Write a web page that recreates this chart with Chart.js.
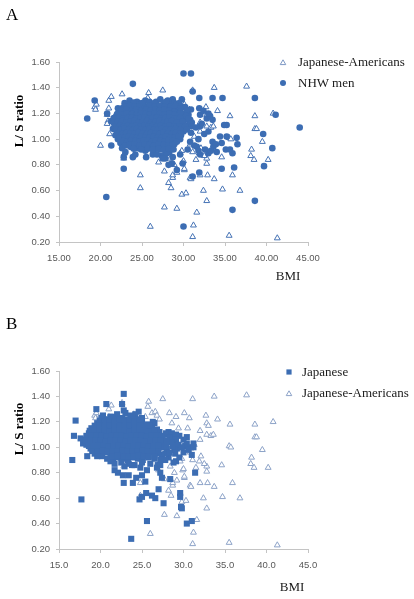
<!DOCTYPE html>
<html lang="en">
<head>
<meta charset="UTF-8">
<title>BMI vs L/S ratio</title>
<style>
  body { margin: 0; background: #fff; width: 414px; height: 599px; position: relative; overflow: hidden; font-family: 'Liberation Serif', 'Times New Roman', serif; }
  .panel { position: absolute; left: 0; width: 414px; height: 300px; }
  .txt { position: absolute; font-size: 13px; line-height: 1; color: #1a1a1a; white-space: nowrap; }
  .letter { font-size: 17px; color: #000; }
  .centered { transform: translate(-50%, -50%); }
  .ytitle { font-weight: bold; transform: translate(-50%, -50%) rotate(-90deg); color: #000; }
</style>
</head>
<body>

<div class="panel" style="top:0"><canvas id="chartA"></canvas></div>
<div class="panel" style="top:300px"><canvas id="chartB"></canvas></div>

<div class="txt letter" style="left:6px;top:6px">A</div>
<div class="txt ytitle" style="left:18px;top:121px">L/ S ratio</div>
<div class="txt centered" style="left:288px;top:275px">BMI</div>
<div class="txt" style="left:298px;top:55px">Japanese-Americans</div>
<div class="txt" style="left:298px;top:76px">NHW men</div>

<div class="txt letter" style="left:6px;top:315px">B</div>
<div class="txt ytitle" style="left:18px;top:429px">L/ S ratio</div>
<div class="txt centered" style="left:292px;top:586px">BMI</div>
<div class="txt" style="left:302px;top:365px">Japanese</div>
<div class="txt" style="left:302px;top:386px">Japanese-Americans</div>

<script src="https://cdn.jsdelivr.net/npm/chart.js@4.4.1/dist/chart.umd.min.js"></script>
<script>
// axis ranges
const bmiRange = [15, 45];
const bmiStep = 5;
const ratioRange = [0.2, 1.6];
const ratioStep = 0.2;

// [BMI, L/S ratio] - Japanese-Americans (same points in both panels)
const jaPairs = [
  [19.3,1.25],[19.4,1.23],[19.5,1.27],[20.0,0.95],[20.8,1.19],[20.9,1.14],[20.8,1.12],[21.0,1.30],
  [21.0,1.24],[21.1,1.04],[21.3,1.33],[22.6,1.35],[22.9,0.89],[22.8,0.85],[24.0,1.26],[24.8,0.72],
  [24.8,0.62],[25.4,1.24],[25.7,1.32],[25.8,1.36],[26.0,0.32],[26.2,1.27],[26.6,1.28],[26.8,1.25],
  [27.1,1.22],[27.5,1.38],[27.0,0.82],[27.7,0.75],[27.7,0.47],[28.2,0.66],[28.5,0.62],[28.7,0.70],
  [28.3,1.27],[28.6,1.19],[29.1,1.24],[29.4,1.15],[29.2,0.46],[29.8,0.57],[30.3,0.58],[30.1,0.76],
  [29.9,0.82],[30.1,1.27],[30.5,1.15],[30.7,1.23],[31.1,1.38],[31.2,0.33],[31.1,0.24],[31.6,0.43],
  [30.8,0.70],[31.5,0.84],[31.9,0.89],[32.0,0.72],[32.4,0.60],[32.8,0.52],[32.9,0.72],[32.8,0.81],
  [32.8,0.85],[32.0,1.13],[32.0,1.06],[32.7,1.25],[32.8,1.19],[33.0,1.17],[32.8,1.10],[33.3,1.09],
  [33.6,1.10],[32.1,0.93],[32.5,0.87],[33.7,1.40],[34.1,1.22],[33.7,0.69],[34.7,0.61],[34.6,0.86],
  [35.5,0.25],[35.6,1.18],[35.5,1.01],[35.7,1.00],[35.9,0.72],[36.8,0.60],[37.6,1.41],[38.6,1.18],
  [38.6,1.08],[38.8,1.08],[38.2,0.92],[38.1,0.87],[38.5,0.84],[39.5,0.98],[40.2,0.84],[40.8,1.20],
  [41.3,0.23],[28.3,0.95],[28.4,0.85],[28.9,0.80],[28.7,0.72],[29.2,0.74],[30.0,0.83],[30.1,0.77],
  [30.8,0.96],[31.1,0.90],[30.9,0.69],[31.3,1.02],[29.8,0.91],[29.6,0.89]
];

// [BMI, L/S ratio] - NHW men (panel A)
const nhwPairs = [
  [18.4,1.16],[19.3,1.30],[20.7,0.55],[20.8,1.20],[21.3,0.95],[22.1,1.24],[22.8,0.77],[22.8,0.86],
  [23.9,0.86],[23.9,1.43],[30.0,1.51],[30.9,1.51],[31.1,1.37],[31.9,1.32],[33.5,1.32],[34.7,1.32],
  [30.0,0.32],[35.9,0.45],[38.6,0.52],[44.0,1.09],[41.1,1.19],[39.6,1.04],[40.7,0.93],[39.7,0.79],
  [38.6,1.32],[36.4,1.01],[36.5,0.96],[36.1,0.78],[35.9,0.89],[35.2,1.11],[34.9,1.11],[34.6,0.77],
  [34.6,0.97],[35.1,0.92],[33.5,0.98],[33.0,0.89],[33.6,0.94],[31.9,0.74],[31.1,0.71],[29.9,0.81],
  [29.2,0.76],[28.6,0.81],[31.9,1.24],[32.0,1.19],[32.8,1.16],[33.2,1.18],[33.0,1.06],[32.0,1.10],
  [29.8,1.31],[29.8,1.25],[30.9,1.23],[30.8,1.15],[28.7,1.31],[27.9,1.27],[26.7,1.29],[31.6,0.94],
  [32.0,0.88],[30.8,0.98],
  [23.5,1.30],[25.4,1.30],[27.2,1.31],[28.1,1.30],[24.4,1.29],
  [23.2,1.27],[24.6,1.27],[25.3,1.26],[26.1,1.27],[26.9,1.26],[27.6,1.28],[28.4,1.27],[29.2,1.26],
  [22.6,1.24],[23.2,1.23],[23.8,1.25],[24.4,1.24],[25.0,1.23],[25.6,1.25],[26.2,1.24],[26.8,1.23],
  [27.4,1.25],[28.1,1.24],[28.8,1.23],[30.2,1.25],
  [22.2,1.21],[22.8,1.20],[23.5,1.22],[24.1,1.21],[24.6,1.20],[25.2,1.22],[25.7,1.21],[26.3,1.20],
  [26.8,1.22],[27.3,1.21],[27.9,1.20],[28.6,1.21],[29.3,1.22],[30.6,1.19],
  [21.9,1.18],[22.5,1.17],[23.0,1.19],[23.5,1.18],[24.0,1.17],[24.5,1.19],[25.0,1.18],[25.5,1.17],
  [26.0,1.18],[26.5,1.19],[27.0,1.17],[27.5,1.18],[28.0,1.19],[28.6,1.17],[29.2,1.18],[29.9,1.17],
  [21.3,1.14],[21.8,1.15],[22.3,1.16],[22.8,1.14],[23.3,1.15],[23.8,1.16],[24.3,1.14],[24.8,1.15],
  [25.3,1.16],[25.8,1.14],[26.3,1.15],[26.8,1.16],[27.3,1.14],[27.8,1.15],[28.3,1.16],[28.8,1.14],
  [29.4,1.15],[30.2,1.15],[31.0,1.13],
  [21.9,1.12],[22.4,1.11],[22.9,1.13],[23.4,1.12],[23.9,1.11],[24.4,1.13],[24.9,1.12],[25.4,1.11],
  [25.9,1.13],[26.4,1.12],[26.9,1.11],[27.4,1.13],[27.9,1.12],[28.4,1.11],[28.9,1.13],[29.5,1.12],
  [30.6,1.11],[32.2,1.12],[33.5,1.15],[33.0,1.20],[32.4,1.22],
  [21.5,1.08],[22.1,1.09],[22.6,1.10],[23.1,1.08],[23.6,1.09],[24.1,1.10],[24.6,1.08],[25.1,1.09],
  [25.6,1.10],[26.1,1.08],[26.6,1.09],[27.1,1.10],[27.6,1.08],[28.1,1.09],[28.6,1.10],[29.2,1.08],
  [29.8,1.09],[31.5,1.09],
  [22.3,1.06],[22.8,1.05],[23.3,1.07],[23.8,1.06],[24.3,1.05],[24.8,1.07],[25.3,1.06],[25.8,1.05],
  [26.3,1.07],[26.8,1.06],[27.3,1.05],[27.8,1.07],[28.3,1.06],[28.8,1.05],[29.3,1.07],[30.0,1.06],
  [30.9,1.05],[32.5,1.04],
  [21.8,1.03],[22.6,1.02],[23.1,1.04],[23.6,1.03],[24.1,1.02],[24.6,1.04],[25.1,1.03],[25.6,1.02],
  [26.1,1.04],[26.6,1.03],[27.1,1.02],[27.6,1.04],[28.1,1.03],[28.6,1.02],[29.1,1.04],[29.7,1.03],
  [34.4,1.02],
  [22.1,1.00],[22.9,0.99],[23.4,1.01],[23.9,1.00],[24.4,0.99],[24.9,1.01],[25.4,1.00],[25.9,0.99],
  [26.4,1.01],[26.9,1.00],[27.4,0.99],[27.9,1.01],[28.4,1.00],[28.9,0.99],[29.6,1.00],[31.8,1.00],
  [35.2,1.02],
  [22.4,0.97],[23.2,0.97],[23.8,0.96],[24.4,0.98],[25.0,0.97],[25.6,0.96],[26.2,0.98],[26.7,0.97],
  [27.3,0.96],[27.8,0.98],[28.3,0.97],[28.9,0.96],[33.9,0.96],
  [22.6,0.93],[23.6,0.94],[24.5,0.93],[25.3,0.95],[26.0,0.94],[26.7,0.93],[27.3,0.95],[27.9,0.94],
  [28.5,0.93],[31.3,0.95],
  [23.0,0.90],[25.4,0.91],[26.4,0.90],[27.2,0.92],[27.8,0.91],[28.3,0.90],[30.5,0.92],[31.8,0.91],
  [32.6,0.92],[33.3,0.91],[34.0,0.90],[35.6,0.92],
  [24.2,0.88],[26.3,0.88],[27.4,0.87],[28.0,0.89],[29.6,0.88],[28.7,0.86],[25.5,0.86],[26.8,0.88],
  [27.8,0.85],[27.5,0.85],[28.2,0.80],
  [22.9,1.28],[24.0,1.285],[25.0,1.28],[25.9,1.29],[26.5,1.28],[27.9,1.29],[28.9,1.28],[29.5,1.28],
  [22.9,1.255],[23.5,1.26],[24.1,1.25],[24.7,1.255],[25.3,1.24],[25.9,1.26],[26.5,1.25],[27.1,1.26],
  [27.7,1.25],[28.4,1.25],[29.0,1.26],[29.6,1.24],[30.4,1.22],
  [22.5,1.225],[23.1,1.23],[23.7,1.22],[24.3,1.23],[24.9,1.22],[25.5,1.23],[26.0,1.22],[26.6,1.23],
  [27.1,1.22],[27.7,1.23],[28.3,1.22],[28.9,1.21],[29.6,1.21],[30.0,1.20],
  [22.0,1.195],[22.6,1.19],[23.2,1.20],[23.8,1.195],[24.3,1.19],[24.9,1.20],[25.4,1.195],[25.9,1.19],
  [26.5,1.20],[27.1,1.195],[27.7,1.19],[28.3,1.20],[28.9,1.19],[29.6,1.20],[30.3,1.18],
  [21.6,1.165],[22.2,1.17],[22.7,1.16],[23.3,1.165],[23.8,1.17],[24.3,1.16],[24.8,1.165],[25.3,1.17],
  [25.8,1.16],[26.3,1.165],[26.8,1.17],[27.3,1.16],[27.8,1.165],[28.3,1.17],[28.9,1.16],[29.6,1.165],
  [30.6,1.16],
  [21.6,1.13],[22.1,1.135],[22.6,1.14],[23.1,1.13],[23.6,1.135],[24.1,1.14],[24.6,1.13],[25.1,1.135],
  [25.6,1.14],[26.1,1.13],[26.6,1.135],[27.1,1.14],[27.6,1.13],[28.1,1.135],[28.6,1.14],[29.2,1.13],
  [29.9,1.135],[30.8,1.12],
  [21.7,1.10],[22.3,1.105],[22.8,1.10],[23.3,1.105],[23.8,1.10],[24.3,1.105],[24.8,1.10],[25.3,1.105],
  [25.8,1.10],[26.3,1.105],[26.8,1.10],[27.3,1.105],[27.8,1.10],[28.3,1.105],[28.9,1.10],[29.5,1.10],
  [30.2,1.10],[31.0,1.10],
  [21.9,1.075],[22.4,1.07],[22.9,1.08],[23.4,1.075],[23.9,1.07],[24.4,1.08],[24.9,1.075],[25.4,1.07],
  [25.9,1.08],[26.4,1.075],[26.9,1.07],[27.4,1.08],[27.9,1.075],[28.4,1.07],[29.0,1.08],[29.6,1.07],
  [30.4,1.075],
  [22.0,1.045],[22.6,1.04],[23.1,1.05],[23.6,1.045],[24.1,1.04],[24.6,1.05],[25.1,1.045],[25.6,1.04],
  [26.1,1.05],[26.6,1.045],[27.1,1.04],[27.6,1.05],[28.1,1.045],[28.6,1.04],[29.1,1.05],[29.6,1.045],
  [22.3,1.015],[22.9,1.01],[23.4,1.02],[23.9,1.015],[24.4,1.01],[24.9,1.02],[25.4,1.015],[25.9,1.01],
  [26.4,1.02],[26.9,1.015],[27.4,1.01],[27.9,1.02],[28.4,1.015],[28.9,1.01],[29.4,1.02],
  [22.7,0.985],[23.2,0.98],[23.7,0.99],[24.2,0.985],[24.7,0.98],[25.2,0.99],[25.7,0.985],[26.2,0.98],
  [26.7,0.99],[27.2,0.985],[27.7,0.98],[28.2,0.99],[28.7,0.985],[29.2,0.98],
  [23.0,0.95],[23.5,0.955],[24.1,0.96],[24.7,0.95],[25.3,0.96],[25.9,0.955],[26.4,0.95],[27.0,0.96],
  [27.6,0.955],[28.2,0.95],[28.7,0.955],
  [24.0,0.925],[24.9,0.92],[25.7,0.925],[26.3,0.92],[27.0,0.925],[27.6,0.92],[28.2,0.925],[28.8,0.92]
];

// [BMI, L/S ratio] - Japanese (panel B)
const jpPairs = [
  [16.6,0.90],[16.8,1.09],[17.0,1.21],[17.7,0.59],[18.4,0.93],[19.5,1.30],[20.7,1.34],[20.3,1.25],
  [22.8,1.42],[22.6,1.34],[22.8,1.29],[24.6,1.28],[21.7,0.82],[22.1,0.80],[22.8,0.72],[23.4,0.78],
  [23.9,0.72],[24.3,0.76],[25.0,0.78],[25.4,0.73],[24.7,0.59],[25.0,0.61],[25.5,0.64],[26.2,0.62],
  [26.6,0.60],[27.0,0.67],[27.6,0.56],[28.4,0.75],[25.6,0.42],[23.7,0.28],[30.4,0.40],[31.0,0.42],
  [29.6,0.64],[29.6,0.61],[29.7,0.53],[29.8,0.52],[31.4,0.80],[31.2,1.03],[31.0,0.94],[30.4,1.08],
  [30.0,1.06],[28.0,1.10],[28.2,1.12],[29.0,0.95],[29.1,0.89],[27.2,0.80],[27.4,0.76],[26.5,1.19],
  [26.2,1.17],[28.6,1.07],[22.7,0.78],[17.6,1.07],[17.9,1.03],
  [29.5,1.09],[30.4,1.03],[30.9,1.00],[29.2,0.99],[28.2,0.92],[28.9,1.03],[27.8,0.95],[30.0,0.96],
  [22.0,1.26],[23.0,1.27],[23.6,1.25],[24.2,1.26],[21.2,1.24],
  [20.1,1.23],[20.8,1.22],[21.4,1.24],[22.0,1.22],[22.6,1.23],[23.2,1.22],[23.8,1.24],[24.4,1.22],
  [25.0,1.23],
  [19.6,1.19],[20.2,1.18],[20.8,1.20],[21.4,1.19],[22.0,1.18],[22.6,1.20],[23.2,1.19],[23.8,1.18],
  [24.4,1.20],[25.0,1.19],[25.6,1.18],[26.3,1.20],
  [18.9,1.15],[19.5,1.14],[20.1,1.16],[20.7,1.15],[21.3,1.14],[21.9,1.16],[22.5,1.15],[23.1,1.14],
  [23.7,1.16],[24.3,1.15],[24.9,1.14],[25.5,1.16],[26.1,1.15],[26.8,1.14],
  [18.6,1.11],[19.2,1.10],[19.8,1.12],[20.4,1.11],[21.0,1.10],[21.6,1.12],[22.2,1.11],[22.8,1.10],
  [23.4,1.12],[24.0,1.11],[24.6,1.10],[25.2,1.12],[25.8,1.11],[26.4,1.10],[27.1,1.12],[27.9,1.11],
  [28.6,1.11],[29.1,1.10],
  [18.0,1.06],[18.4,1.07],[19.0,1.08],[19.6,1.06],[20.2,1.07],[20.8,1.08],[21.4,1.06],[22.0,1.07],
  [22.6,1.08],[23.2,1.06],[23.8,1.07],[24.4,1.08],[25.0,1.06],[25.6,1.07],[26.2,1.08],[26.8,1.06],
  [27.5,1.07],[28.3,1.08],[29.1,1.06],
  [18.3,1.02],[18.5,1.03],[19.1,1.04],[19.7,1.02],[20.3,1.03],[20.9,1.04],[21.5,1.02],[22.1,1.03],
  [22.7,1.04],[23.3,1.02],[23.9,1.03],[24.5,1.04],[25.1,1.02],[25.7,1.03],[26.3,1.04],[26.9,1.02],
  [27.6,1.03],[28.5,1.04],[29.4,1.02],[30.2,1.01],
  [18.8,0.99],[19.4,0.98],[20.0,1.00],[20.6,0.99],[21.2,0.98],[21.8,1.00],[22.4,0.99],[23.0,0.98],
  [23.6,1.00],[24.2,0.99],[24.8,0.98],[25.4,1.00],[26.0,0.99],[26.6,0.98],[27.3,1.00],[28.0,0.99],
  [28.9,0.98],[29.8,1.00],[30.6,0.98],[31.2,1.00],
  [19.3,0.95],[19.9,0.94],[20.6,0.96],[21.2,0.95],[21.8,0.94],[22.4,0.96],[23.0,0.95],[23.6,0.94],
  [24.2,0.96],[24.8,0.95],[25.4,0.94],[26.0,0.96],[26.7,0.95],[27.4,0.94],[28.3,0.96],[29.5,0.92],
  [20.2,0.93],[20.8,0.91],[21.5,0.90],[22.1,0.92],[22.7,0.91],[23.3,0.90],[23.9,0.92],[24.5,0.91],
  [25.1,0.90],[25.8,0.92],[26.5,0.91],[27.2,0.90],[27.8,0.90],[28.8,0.88],
  [21.7,0.87],[22.5,0.88],[23.4,0.87],[24.1,0.86],[25.0,0.88],[26.0,0.87],[26.9,0.86],[21.2,0.89],
  [22.9,0.85],[23.8,0.86],[24.8,0.84],[25.6,0.82],[26.8,0.84],[27.2,0.86],
  [19.9,1.21],[20.5,1.205],[21.1,1.21],[21.7,1.20],[22.3,1.21],[22.9,1.205],[23.5,1.21],[24.1,1.20],
  [24.7,1.21],
  [19.3,1.17],[19.9,1.17],[20.5,1.165],[21.1,1.17],[21.7,1.175],[22.3,1.17],[22.9,1.165],[23.5,1.17],
  [24.1,1.175],[24.7,1.17],[25.3,1.165],[25.9,1.17],
  [18.7,1.13],[19.3,1.13],[19.9,1.135],[20.5,1.13],[21.1,1.125],[21.7,1.13],[22.3,1.135],[22.9,1.13],
  [23.5,1.125],[24.1,1.13],[24.7,1.135],[25.3,1.13],[25.9,1.125],[26.5,1.13],
  [18.3,1.09],[18.9,1.09],[19.5,1.095],[20.1,1.09],[20.7,1.085],[21.3,1.09],[21.9,1.095],[22.5,1.09],
  [23.1,1.085],[23.7,1.09],[24.3,1.095],[24.9,1.09],[25.5,1.085],[26.1,1.09],[26.7,1.095],[27.4,1.09],
  [18.2,1.05],[18.8,1.05],[19.4,1.055],[20.0,1.05],[20.6,1.045],[21.2,1.05],[21.8,1.055],[22.4,1.05],
  [23.0,1.045],[23.6,1.05],[24.2,1.055],[24.8,1.05],[25.4,1.045],[26.0,1.05],[26.6,1.055],[27.2,1.05],
  [28.0,1.05],
  [18.6,1.01],[19.2,1.01],[19.8,1.015],[20.4,1.01],[21.0,1.005],[21.6,1.01],[22.2,1.015],[22.8,1.01],
  [23.4,1.005],[24.0,1.01],[24.6,1.015],[25.2,1.01],[25.8,1.005],[26.4,1.01],[27.0,1.015],[27.9,1.01],
  [28.7,1.01],
  [19.0,0.97],[19.6,0.97],[20.3,0.975],[20.9,0.97],[21.5,0.965],[22.1,0.97],[22.7,0.975],[23.3,0.97],
  [23.9,0.965],[24.5,0.97],[25.1,0.975],[25.7,0.97],[26.3,0.965],[27.0,0.97],
  [19.6,0.93],[21.5,0.93],[22.1,0.935],[22.8,0.93],[23.4,0.925],[24.0,0.93],[24.6,0.935],[25.2,0.93],
  [25.8,0.925],[26.5,0.93]
];

const blue = '#3c6db3';
const toXY = pairs => pairs.map(p => ({ x: p[0], y: p[1] }));

// draws the small legend symbols next to the html legend text
const markerPlugin = {
  id: 'markers',
  afterDraw(chart, args, opts) {
    const ctx = chart.ctx;
    (opts.items || []).forEach(m => {
      ctx.save();
      ctx.beginPath();
      if (m.style === 'circle') {
        ctx.arc(m.x, m.y, m.r, 0, Math.PI * 2);
      } else if (m.style === 'rect') {
        ctx.rect(m.x - m.r, m.y - m.r, m.r * 2, m.r * 2);
      } else {
        ctx.moveTo(m.x, m.y - m.r);
        ctx.lineTo(m.x + m.r * 0.866, m.y + m.r / 2);
        ctx.lineTo(m.x - m.r * 0.866, m.y + m.r / 2);
        ctx.closePath();
      }
      ctx.fillStyle = m.fill;
      ctx.fill();
      if (m.stroke) {
        ctx.strokeStyle = m.stroke;
        ctx.lineWidth = 1;
        ctx.stroke();
      }
      ctx.restore();
    });
  }
};

function makeChart(id, datasets, cfg) {
  const tickFont = { family: "'Liberation Sans', Arial, sans-serif", size: 9.5 };
  return new Chart(document.getElementById(id), {
    type: 'scatter',
    data: { datasets: datasets },
    plugins: [markerPlugin],
    options: {
      responsive: true,
      maintainAspectRatio: false,
      animation: false,
      events: [],
      layout: { padding: { left: 0, top: cfg.top, right: 106, bottom: 0 } },
      plugins: {
        legend: { display: false },
        tooltip: { enabled: false },
        markers: { items: cfg.markers }
      },
      scales: {
        x: {
          type: 'linear',
          min: bmiRange[0], max: bmiRange[1],
          ticks: {
            stepSize: bmiStep, autoSkip: false, maxRotation: 0, padding: 7,
            color: '#595959', font: tickFont,
            callback: v => v.toFixed(cfg.xDec)
          },
          grid: { drawOnChartArea: false, color: '#c4c4c4', tickLength: 4 },
          border: { color: '#c4c4c4' },
          afterFit: s => { s.height = cfg.bottom; }
        },
        y: {
          type: 'linear',
          min: ratioRange[0], max: ratioRange[1],
          ticks: {
            stepSize: ratioStep, padding: 6,
            color: '#595959', font: tickFont,
            callback: v => v.toFixed(2)
          },
          grid: { drawOnChartArea: false, color: '#c4c4c4', tickLength: 3 },
          border: { color: '#c4c4c4' },
          afterFit: s => { s.width = 59; }
        }
      }
    }
  });
}

// Panel A: triangles underneath (higher order is drawn first)
makeChart('chartA', [
  {
    label: 'Japanese-Americans', data: toXY(jaPairs), order: 2,
    pointStyle: 'triangle', pointRadius: 3.4, pointBackgroundColor: '#fff',
    pointBorderColor: '#4673b5', pointBorderWidth: 1, showLine: false
  },
  {
    label: 'NHW men', data: toXY(nhwPairs), order: 1,
    pointStyle: 'circle', pointRadius: 3.3, pointBackgroundColor: blue,
    pointBorderWidth: 0, showLine: false
  }
], {
  top: 62, bottom: 58, xDec: 2,
  markers: [
    { style: 'triangle', x: 283, y: 63, r: 3.2, fill: '#fff', stroke: '#7d98c4' },
    { style: 'circle', x: 283, y: 83, r: 3, fill: blue }
  ]
});

// Panel B: squares on top
makeChart('chartB', [
  {
    label: 'Japanese', data: toXY(jpPairs), order: 1,
    pointStyle: 'rect', pointRadius: 4.3, pointBackgroundColor: blue,
    pointBorderWidth: 0, showLine: false
  },
  {
    label: 'Japanese-Americans', data: toXY(jaPairs), order: 2,
    pointStyle: 'triangle', pointRadius: 3.4, pointBackgroundColor: '#fff',
    pointBorderColor: '#8da3c8', pointBorderWidth: 1, showLine: false
  }
], {
  top: 71, bottom: 51, xDec: 1,
  markers: [
    { style: 'rect', x: 289, y: 72, r: 2.6, fill: blue },
    { style: 'triangle', x: 289, y: 94, r: 3.2, fill: '#fff', stroke: '#8da3c8' }
  ]
});
</script>
</body>
</html>
